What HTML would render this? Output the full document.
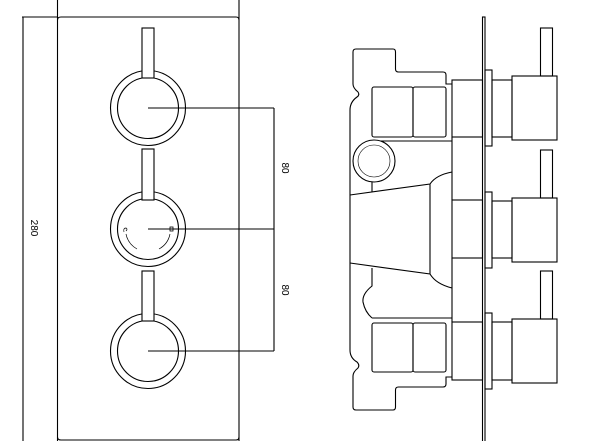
<!DOCTYPE html>
<html><head><meta charset="utf-8"><style>
html,body{margin:0;padding:0;background:#fff;width:600px;height:441px;overflow:hidden}
svg{display:block}
text{font-family:"Liberation Sans",sans-serif;font-size:10px;fill:#000}
</style></head><body>
<svg width="600" height="441" viewBox="0 0 600 441" fill="none" stroke="#000" stroke-width="1.1">
<!-- left view -->
<line x1="57.5" y1="0" x2="57.5" y2="441"/>
<line x1="239" y1="0" x2="239" y2="441"/>
<path d="M57.5 20 Q57.5 17 61 17 L236 17 Q239 17 239 20"/>
<path d="M57.5 437 Q57.5 440 61 440 L236 440 Q239 440 239 437"/>
<line x1="22" y1="17" x2="57.5" y2="17"/>
<line x1="23" y1="17" x2="23" y2="441"/>
<text x="0" y="0" transform="translate(31,228) rotate(90)" text-anchor="middle" stroke="none">280</text>
<g>
<circle cx="148" cy="108" r="37.5"/><circle cx="148" cy="108" r="30.5"/>
<circle cx="148" cy="229" r="37.5"/><circle cx="148" cy="229" r="30.5"/>
<circle cx="148" cy="351" r="37.5"/><circle cx="148" cy="351" r="30.5"/>
</g>
<g fill="#fff">
<rect x="142" y="28" width="12" height="50"/>
<rect x="142" y="149" width="12" height="51"/>
<rect x="142" y="271" width="12" height="50"/>
</g>
<line x1="148" y1="108" x2="274" y2="108"/>
<line x1="148" y1="229" x2="274" y2="229"/>
<line x1="148" y1="351" x2="274" y2="351"/>
<line x1="274" y1="108" x2="274" y2="351"/>
<text x="0" y="0" transform="translate(282,168) rotate(90)" text-anchor="middle" stroke="none">80</text>
<text x="0" y="0" transform="translate(282,290) rotate(90)" text-anchor="middle" stroke="none">80</text>
<path d="M126 234 Q128 244 137 249" stroke-width="0.7"/>
<path d="M170 234 Q168 244 159 249" stroke-width="0.7"/>
<path d="M124 232 q-1 -4 2 -4 q2 1 0 3" stroke-width="0.7"/>
<rect x="170" y="227" width="3" height="4" stroke-width="0.8"/>
<!-- right view -->
<rect x="482.5" y="17" width="2.5" height="430"/>
<path d="M353 52 Q353 49 356 49 L393 49 Q395.5 49 395.5 52 L395.5 69 Q395.5 72 398.5 72 L443 72 Q446 72 446 75 L446 84 L452 84
M353 52 L353 84 Q353 88 358 92 Q360 95 357 97 Q350 102 350 110 L350 350 Q350 358 357 362 Q360 365 358 368 Q353 372 353 376 L353 407 Q353 410 356 410 L393 410 Q395.5 410 395.5 407 L395.5 390 Q395.5 387 398.5 387 L443 387 Q446 387 446 384 L446 377 L452 377"/>
<rect x="372" y="87" width="41" height="50" rx="2"/>
<rect x="413" y="87" width="33" height="50" rx="2"/>
<rect x="372" y="323" width="41" height="49" rx="2"/>
<rect x="413" y="323" width="33" height="49" rx="2"/>
<line x1="372" y1="141" x2="452" y2="141"/>
<line x1="372" y1="318" x2="452" y2="318"/>
<line x1="372" y1="180" x2="372" y2="192"/>
<path d="M372 268 L372 286 Q362 294 363 302 Q365 312 372 318"/>
<circle cx="374" cy="161" r="21" fill="#fff"/>
<circle cx="374" cy="161" r="16" stroke-width="0.6"/>
<path d="M350 195 L430 184 Q436 175 452 172 M350 263 L430 274 Q436 284 452 288 M430 184 L430 274"/>
<rect x="452" y="80" width="30.5" height="57"/>
<rect x="452" y="200" width="30.5" height="58"/>
<rect x="452" y="322" width="30.5" height="58"/>
<line x1="452" y1="137" x2="452" y2="200"/>
<line x1="452" y1="258" x2="452" y2="322"/>
<rect x="485" y="70" width="7" height="76"/>
<rect x="485" y="192" width="7" height="76"/>
<rect x="485" y="313" width="7" height="76"/>
<rect x="492" y="80" width="20" height="57"/>
<rect x="492" y="201" width="20" height="57"/>
<rect x="492" y="322" width="20" height="58"/>
<rect x="512" y="76" width="45" height="64"/>
<rect x="512" y="198" width="45" height="64"/>
<rect x="512" y="319" width="45" height="64"/>
<rect x="540.5" y="28" width="12" height="48"/>
<rect x="540.5" y="150" width="12" height="48"/>
<rect x="540.5" y="271" width="12" height="48"/>
</svg>
</body></html>
